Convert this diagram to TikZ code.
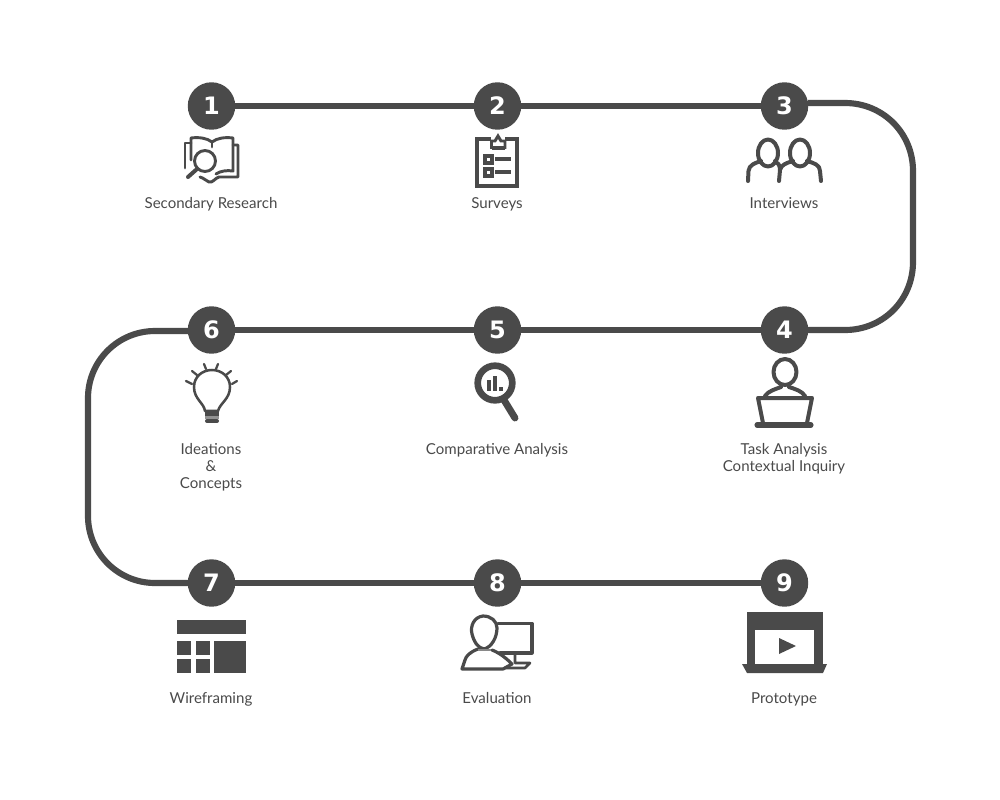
\documentclass[tikz,border=0pt]{standalone}
\usepackage{fontspec}
\setmainfont{Lato}
\newfontfamily\numfont{DejaVu Sans}
\definecolor{ink}{HTML}{4A4A4A}
\tikzset{
  numdot/.style={circle,fill=ink,text=white,minimum size=35.6pt,inner sep=0pt,outer sep=0pt,font=\numfont\bfseries\fontsize{18pt}{18pt}\selectfont},
  caption/.style={text=ink,align=center,inner sep=0pt,anchor=base,font=\fontsize{11.3pt}{12.75pt}\selectfont},
  route/.style={draw=ink,line width=4.6pt},
  outline/.style={draw=ink,line width=2.2pt,line join=round,line cap=round},
  heavy/.style={draw=ink,line width=3pt,line join=round,line cap=round}
}
\begin{document}
\begin{tikzpicture}[x=0.75pt,y=-0.75pt]
\useasboundingbox (0,0) rectangle (1000,800);
% numbered stops
\node[numdot] (n1) at (211.5,106) {1};
\node[numdot] (n2) at (497.5,106) {2};
\node[numdot] (n3) at (784.5,106) {3};
\node[numdot] (n4) at (784.5,330) {4};
\node[numdot] (n5) at (497.5,330) {5};
\node[numdot] (n6) at (211.5,330) {6};
\node[numdot] (n7) at (211.5,583) {7};
\node[numdot] (n8) at (497.5,583) {8};
\node[numdot] (n9) at (784.5,583) {9};
% connectors
\coordinate (r1) at (845,103);
\coordinate (r2) at (845,330);
\coordinate (l1) at (155,331);
\coordinate (l2) at (155,583);
\draw[route] (n1) -- (n2);
\draw[route] (n2) -- (n3);
\draw[route] (n3.east |- r1) -- (r1) .. controls (883,103) and (913,133) .. (913,171) -- (913,262) .. controls (913,300) and (883,330) .. (r2) -- (n4.east);
\draw[route] (n4) -- (n5);
\draw[route] (n5) -- (n6);
\draw[route] (n6.west |- l1) -- (l1) .. controls (118,331) and (88,361) .. (88,398) -- (88,516) .. controls (88,553) and (118,583) .. (l2) -- (n7.west);
\draw[route] (n7) -- (n8);
\draw[route] (n8) -- (n9);
% captions
\node[caption] (c1) at (211,208.5) {Secondary Research};
\node[caption] (c2) at (497,208.5) {Surveys};
\node[caption] (c3) at (784,208.5) {Interviews};
\node[caption] (c4) at (784,471.5) {Task Analysis\\Contextual Inquiry};
\node[caption] (c5) at (497,454.5) {Comparative Analysis};
\node[caption] (c6) at (211,488.5) {Ideations\\\&\\Concepts};
\node[caption] (c7) at (211,703) {Wireframing};
\node[caption] (c8) at (497,703) {Evaluation};
\node[caption] (c9) at (784,703) {Prototype};
% icon 1: book and magnifier
\draw[outline] (191,143) -- (185,143) -- (185,168);
\draw[outline] (191,160) -- (191,138) .. controls (199,137) and (207,138) .. (212,142) .. controls (217,138) and (225,137) .. (233,138) -- (233,171) .. controls (227,170) and (220,171) .. (216,174);
\draw[outline] (233,145) -- (238,145) -- (238,177) -- (219,177) .. controls (215,178) and (213,183) .. (209,182) .. controls (206,181) and (204,178) .. (200,177);
\draw[outline] (212,142) -- (212,147);
\draw[outline,fill=white] (205,161) circle (10.5);
\draw[heavy] (197,169) -- (188,177);
% icon 2: clipboard
\draw[heavy,line cap=butt,line join=miter] (491,139) -- (477,139) -- (477,186) -- (517,186) -- (517,139) -- (505,139);
\draw[outline,line join=miter,fill=white] (491.5,147.5) -- (491.5,141) -- (495,141) -- (498,136) -- (501,141) -- (505,141) -- (505,147.5) -- cycle;
\draw[heavy,line cap=butt] (491.5,147.5) -- (505,147.5);
\draw[heavy,line cap=butt,line join=miter] (485,156) rectangle (492,163);
\draw[heavy,line cap=butt,line join=miter] (485,169) rectangle (492,176);
\draw[heavy,line cap=butt] (495,158.5) -- (511,158.5);
\draw[heavy,line cap=butt] (495,172) -- (511,172);
% icon 3: two people
\draw[heavy] (768,153) ellipse (10 and 13.5);
\draw[heavy] (800,153) ellipse (10 and 13.5);
\draw[heavy] (748,181) -- (748.5,171) .. controls (749,165) and (755,163) .. (761,161);
\draw[heavy] (775,161) .. controls (778,163) and (780,165) .. (780,170) -- (779,181);
\draw[heavy] (780,170) .. controls (781,165) and (786,163) .. (793,161);
\draw[heavy] (807,161) .. controls (814,163) and (820,165) .. (820,171) -- (821,181);
% icon 6: light bulb
\draw[outline,line width=1.9pt] (205,411) .. controls (204,403) and (194,399) .. (194,387) .. controls (194,377) and (202,370) .. (212,370) .. controls (222,370) and (230,377) .. (230,387) .. controls (230,399) and (220,403) .. (218,411) -- cycle;
\draw[heavy,line cap=butt] (205,414) -- (219,414);
\draw[draw=ink!60,line width=2pt] (205,417.5) -- (219,417.5);
\draw[heavy,line cap=round] (207,421) -- (217,421);
\draw[outline,line width=1.7pt] (186,381) -- (192,384);
\draw[outline,line width=1.7pt] (192,371) -- (197,375);
\draw[outline,line width=1.7pt] (204,364) -- (206,369);
\draw[outline,line width=1.7pt] (218,364) -- (216,369);
\draw[outline,line width=1.7pt] (231,371) -- (226,375);
\draw[outline,line width=1.7pt] (237,381) -- (232,384);
% icon 5: magnifier with bars
\draw[draw=ink,line width=5pt] (495,383) circle (17.3);
\draw[draw=ink,line width=5.2pt,line cap=round] (504,400) -- (515,418);
\fill[ink] (487,380) rectangle (491,391);
\fill[ink] (493,376) rectangle (497,391);
\fill[ink] (499,387) rectangle (503,391);
% icon 4: person at laptop
\draw[heavy] (785,372) ellipse (11.5 and 13);
\draw[heavy] (765,396) .. controls (768,391) and (776,389) .. (781,387);
\draw[heavy] (789,387) .. controls (795,389) and (802,391) .. (805,396);
\draw[heavy] (763,423) -- (758,398) -- (812,398) -- (807,423);
\draw[draw=ink,line width=3.8pt,line cap=round] (757,425) -- (811,425);
% icon 7: layout grid
\fill[ink] (177,620) rectangle (246,634);
\fill[ink] (177,641) rectangle (191,655);
\fill[ink] (196,641) rectangle (210,655);
\fill[ink] (177,659) rectangle (191,673);
\fill[ink] (196,659) rectangle (210,673);
\fill[ink] (214,641) rectangle (246,673);
% icon 8: person at monitor
\draw[outline,line width=2.4pt] (483,616) .. controls (474,617) and (470,626) .. (472,634) .. controls (474,642) and (478,648) .. (484,649) .. controls (492,647) and (497,637) .. (497,628) .. controls (497,621) and (491,616) .. (483,616) -- cycle;
\draw[outline,line width=2.4pt] (478,649) .. controls (470,652) and (466,656) .. (465,660) -- (462,669) -- (503,669) -- (512,664) .. controls (507,659) and (500,653) .. (492,650);
\draw[draw=ink!65,line width=2pt] (478,650) -- (491,650);
\draw[outline,line width=2.4pt] (498,623.5) -- (532,623.5) -- (532,653) -- (500,653);
\draw[outline,line width=2pt] (515,654) -- (515,663) -- (530,663) -- (525,668) -- (505,668);
% icon 9: video player
\fill[ink] (747,612) rectangle (823,630);
\fill[ink] (747,630) rectangle (755,665);
\fill[ink] (814,630) rectangle (823,665);
\fill[ink] (742,664) -- (827,664) -- (823,673) -- (747,673) -- cycle;
\fill[ink] (779,638) -- (796,646) -- (779,654) -- cycle;
\end{tikzpicture}
\end{document}
